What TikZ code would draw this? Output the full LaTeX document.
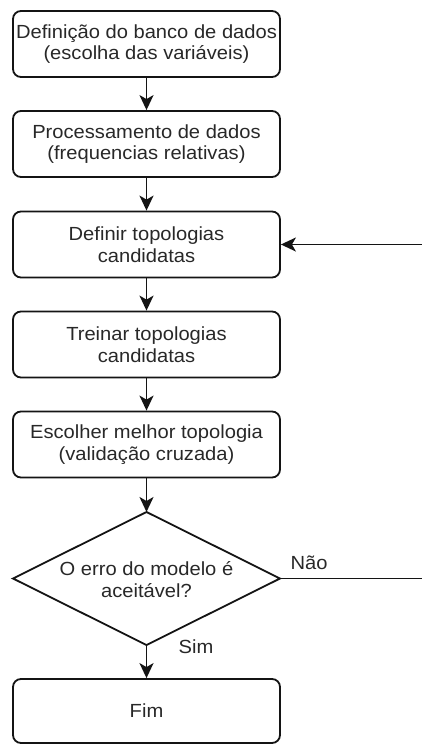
\documentclass[tikz,border=0pt]{standalone}
\usepackage{fontspec}
\setmainfont{Liberation Sans}[FakeStretch=1.06]
\usetikzlibrary{arrows.meta}
\definecolor{txt}{RGB}{40,40,40}
\definecolor{ln}{RGB}{20,20,20}
\begin{document}
\begin{tikzpicture}[x=1pt,y=-1pt,
  txtfont/.style={text=txt, font=\fontsize{19}{21.5}\selectfont},
  stepbox/.style={draw=ln, line width=1.8pt, rounded corners=8pt, minimum width=267pt, minimum height=66pt, inner sep=0pt, align=center, txtfont},
  lbl/.style={txtfont, inner sep=0pt},
  flow/.style={draw=ln, line width=1.8pt, -{Stealth[length=15pt,width=14pt,inset=4pt]}}]
\useasboundingbox (0,0) rectangle (422,744);
\clip (0,0) rectangle (422,744);
\node[stepbox] (b1) at (146.5,44) {Definição do banco de dados\\(escolha das variáveis)};
\node[stepbox] (b2) at (146.5,144) {Processamento de dados\\(frequencias relativas)};
\node[stepbox] (b3) at (146.5,244.5) {Definir topologias\\candidatas};
\node[stepbox] (b4) at (146.5,344.5) {Treinar topologias\\candidatas};
\node[stepbox] (b5) at (146.5,444.5) {Escolher melhor topologia\\(validação cruzada)};
\coordinate (dtop) at (146.5,512);
\coordinate (dbot) at (146.5,645);
\coordinate (dleft) at (13,578.5);
\coordinate (dright) at (280,578.5);
\draw[draw=ln, line width=1.8pt, line join=miter] (dtop) -- (dright) -- (dbot) -- (dleft) -- cycle;
\node[lbl, align=center] (dec) at (146.5,579.5) {O erro do modelo é\\aceitável?};
\node[stepbox, minimum height=64pt] (fim) at (146.5,711) {Fim};
\coordinate (fb) at (432,578.5);
\draw[flow] (b1) -- (b2);
\draw[flow] (b2) -- (b3);
\draw[flow] (b3) -- (b4);
\draw[flow] (b4) -- (b5);
\draw[flow] (b5) -- (dtop);
\draw[flow] (dbot) -- (fim);
\draw[flow] (dright) -- (fb) |- (b3.east);
\node[lbl] (nao) at (309,563) {Não};
\node[lbl] (sim) at (196,647) {Sim};
\end{tikzpicture}
\end{document}
